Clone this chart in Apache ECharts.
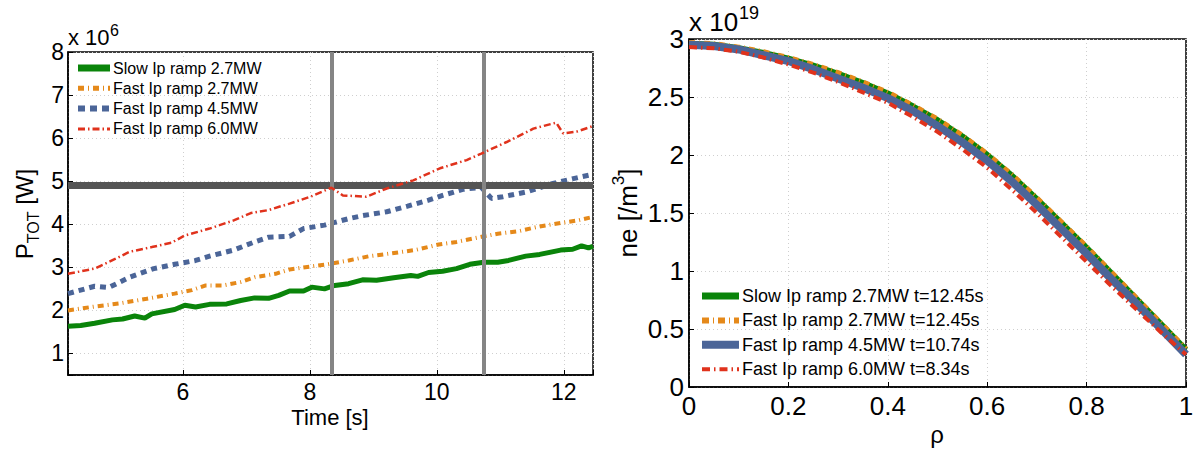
<!DOCTYPE html>
<html>
<head>
<meta charset="utf-8">
<script src="https://cdn.jsdelivr.net/npm/echarts@6/dist/echarts.min.js"></script>
<style>html,body{margin:0;padding:0;background:#fff;}#c{width:1197px;height:450px;}</style>
</head>
<body>
<div id="c"></div>
<script>
// ---------- Left panel: total power vs time (units of 1e6 W) ----------
const leftNames = ['Slow Ip ramp 2.7MW', 'Fast Ip ramp 2.7MW', 'Fast Ip ramp 4.5MW', 'Fast Ip ramp 6.0MW'];
const tSlow27 = [4.19,4.39,4.61,4.89,5.05,5.24,5.40,5.51,5.87,6.03,6.20,6.42,6.69,6.91,7.13,7.35,7.51,7.68,7.90,8.03,8.23,8.39,8.61,8.83,9.05,9.32,9.59,9.70,9.87,10.09,10.31,10.52,10.74,10.96,11.13,11.40,11.62,11.95,12.14,12.28,12.39,12.46];
const pSlow27 = [1.63,1.65,1.70,1.78,1.80,1.87,1.82,1.92,2.02,2.12,2.08,2.14,2.15,2.23,2.29,2.28,2.35,2.45,2.45,2.54,2.50,2.58,2.62,2.71,2.70,2.76,2.81,2.79,2.88,2.91,2.97,3.07,3.12,3.12,3.16,3.26,3.30,3.40,3.42,3.50,3.45,3.49];
const tFast27 = [4.19,4.61,4.99,5.43,5.87,6.14,6.36,6.64,6.91,7.13,7.46,7.68,8.01,8.28,8.61,8.94,9.26,9.65,10.03,10.31,10.74,10.96,11.29,11.62,11.95,12.22,12.46];
const pFast27 = [2.00,2.09,2.16,2.27,2.39,2.47,2.58,2.58,2.66,2.77,2.85,2.95,3.02,3.07,3.16,3.26,3.32,3.40,3.53,3.59,3.72,3.78,3.84,3.95,4.03,4.09,4.17];
const tFast45 = [4.19,4.61,4.83,5.16,5.54,5.87,6.20,6.42,6.80,7.13,7.35,7.68,7.90,8.23,8.61,8.83,9.21,9.54,9.87,10.09,10.41,10.70,10.86,11.04,11.41,11.83,12.15,12.46];
const pFast45 = [2.39,2.56,2.53,2.77,2.97,3.07,3.16,3.26,3.40,3.59,3.70,3.72,3.90,3.98,4.13,4.20,4.29,4.42,4.56,4.67,4.81,4.86,4.60,4.64,4.75,4.95,5.06,5.16];
const tFast60 = [4.19,4.61,4.94,5.16,5.51,5.82,6.03,6.42,6.80,7.07,7.35,7.68,8.01,8.34,8.52,8.89,9.21,9.63,10.05,10.47,10.70,11.10,11.52,11.83,11.88,11.99,12.20,12.46];
const pFast60 = [2.85,2.97,3.20,3.36,3.47,3.57,3.74,3.90,4.09,4.26,4.33,4.48,4.64,4.85,4.67,4.64,4.83,5.02,5.30,5.49,5.64,5.91,6.22,6.34,6.36,6.11,6.15,6.28];
const powerLimit = 4.9;            // horizontal reference line (1e6 W)
const markerTimes = [8.34, 10.74]; // vertical reference lines (s)
const timeRange = [4.19, 12.46];
const powerRange = [0.5, 8];

// ---------- Right panel: density profiles (units of 1e19 /m^3) ----------
const rightNames = ['Slow Ip ramp 2.7MW t=12.45s', 'Fast Ip ramp 2.7MW t=12.45s', 'Fast Ip ramp 4.5MW t=10.74s', 'Fast Ip ramp 6.0MW t=8.34s'];
const rho = [0,0.05,0.1,0.15,0.2,0.25,0.3,0.35,0.4,0.45,0.5,0.55,0.6,0.65,0.7,0.75,0.8,0.85,0.9,0.95,1];
const neSlow27 = [2.96,2.95,2.92,2.88,2.83,2.77,2.70,2.62,2.53,2.42,2.30,2.16,2.00,1.82,1.62,1.41,1.20,0.98,0.76,0.54,0.32];
const neFast27 = [2.97,2.96,2.93,2.89,2.84,2.78,2.71,2.63,2.54,2.43,2.31,2.17,2.01,1.83,1.63,1.42,1.21,0.99,0.77,0.55,0.33];
const neFast45 = [2.95,2.94,2.91,2.86,2.81,2.74,2.66,2.58,2.49,2.38,2.25,2.11,1.95,1.77,1.57,1.36,1.15,0.93,0.72,0.50,0.28];
const neFast60 = [2.93,2.92,2.89,2.84,2.78,2.71,2.63,2.54,2.45,2.33,2.20,2.05,1.89,1.70,1.50,1.29,1.08,0.87,0.67,0.47,0.28];

const colors = ['#0a840a', '#e5891a', '#4b6598', '#e0321c'];
const FF = 'Liberation Sans, Arial, sans-serif';

function zip(a, b) { return a.map((v, i) => [v, b[i]]); }

const chart = echarts.init(document.getElementById('c'), null, {renderer: 'svg'});

const splitLine = {show: true, lineStyle: {color: '#cfcfcf', type: [1, 3], width: 1}};
const axLine = {show: true, onZero: false, lineStyle: {color: '#000', width: 1.5}};
const tick = {show: true, inside: true, length: 5, lineStyle: {color: '#000', width: 1}};
const intOnly = v => (Math.abs(v - Math.round(v)) < 1e-6 ? String(Math.round(v)) : '');

const leftStyles = [
  {width: 5, type: 'solid'},
  {width: 4, type: [6, 4, 1, 4]},
  {width: 5, type: [6, 5]},
  {width: 2.5, type: [7, 3, 1.5, 3]}
];
const rightStyles = [
  {width: 6, type: 'solid'},
  {width: 5, type: [6, 4, 1, 4]},
  {width: 8, type: 'solid'},
  {width: 4, type: [8, 4, 1.5, 4]}
];
const leftLegendStyles = [
  {width: 7, dash: null},
  {width: 5, dash: [6, 4, 1, 4]},
  {width: 6, dash: [7, 5]},
  {width: 3, dash: [7, 3, 1.5, 3]}
];
const rightLegendStyles = [
  {width: 7, dash: null},
  {width: 6, dash: [7, 4, 1, 4]},
  {width: 8, dash: null},
  {width: 4, dash: [8, 4, 1.5, 4]}
];
const leftData = [zip(tSlow27, pSlow27), zip(tFast27, pFast27), zip(tFast45, pFast45), zip(tFast60, pFast60)];
const rightData = [zip(rho, neSlow27), zip(rho, neFast27), zip(rho, neFast45), zip(rho, neFast60)];

const series = [];
leftNames.forEach((n, i) => {
  series.push({
    name: n, type: 'line', xAxisIndex: 0, yAxisIndex: 0, data: leftData[i],
    symbol: 'none', showSymbol: false, animation: false, z: 2 + i,
    lineStyle: {color: colors[i], width: leftStyles[i].width, type: leftStyles[i].type, cap: 'butt'},
    itemStyle: {color: colors[i]}
  });
});
series.push({
  type: 'line', xAxisIndex: 0, yAxisIndex: 0, data: [], z: 10, animation: false,
  markLine: {silent: true, symbol: 'none', animation: false, label: {show: false},
    lineStyle: {color: '#555555', width: 7, type: 'solid'},
    data: [{yAxis: powerLimit}]}
});
series.push({
  type: 'line', xAxisIndex: 0, yAxisIndex: 0, data: [], z: 11, animation: false,
  markLine: {silent: true, symbol: 'none', animation: false, label: {show: false},
    lineStyle: {color: '#858585', width: 4, type: 'solid'},
    data: markerTimes.map(t => ({xAxis: t}))}
});
rightNames.forEach((n, i) => {
  series.push({
    name: n, type: 'line', xAxisIndex: 1, yAxisIndex: 1, data: rightData[i],
    symbol: 'none', showSymbol: false, animation: false, z: 2 + i,
    lineStyle: {color: colors[i], width: rightStyles[i].width, type: rightStyles[i].type, cap: 'butt'},
    itemStyle: {color: colors[i]}
  });
});

// legends drawn as graphic groups (line sample + text label)
function legendGraphics(names, styles, x0, lineLen, y0, gap, fontSize) {
  const els = [];
  names.forEach((n, i) => {
    const y = y0 + i * gap;
    const st = {stroke: colors[i], lineWidth: styles[i].width, lineCap: 'butt'};
    if (styles[i].dash) st.lineDash = styles[i].dash;
    els.push({type: 'line', silent: true, z: 50, shape: {x1: x0, y1: y, x2: x0 + lineLen, y2: y}, style: st});
    els.push({type: 'text', silent: true, z: 50, x: x0 + lineLen + 3, y: y,
      style: {text: n, font: fontSize + 'px ' + FF, fill: '#000', verticalAlign: 'middle', align: 'left'}});
  });
  return els;
}

const option = {
  backgroundColor: '#fff',
  animation: false,
  grid: [
    {left: 68, top: 52, width: 525, height: 323, show: true, borderColor: '#000', borderWidth: 1.5, backgroundColor: 'transparent'},
    {left: 689, top: 39, width: 497, height: 348, show: true, borderColor: '#000', borderWidth: 1.5, backgroundColor: 'transparent'}
  ],
  xAxis: [
    {type: 'value', gridIndex: 0, min: timeRange[0], max: timeRange[1], splitNumber: 5,
     axisLine: axLine, axisTick: tick, splitLine: splitLine,
     axisLabel: {formatter: intOnly, fontSize: 23, color: '#000', fontFamily: FF, margin: 5}},
    {type: 'value', gridIndex: 1, min: 0, max: 1, interval: 0.2,
     axisLine: axLine, axisTick: tick, splitLine: splitLine,
     axisLabel: {formatter: v => String(+v.toFixed(1)), fontSize: 26, color: '#000', fontFamily: FF, margin: 6}}
  ],
  yAxis: [
    {type: 'value', gridIndex: 0, min: powerRange[0], max: powerRange[1], splitNumber: 8,
     axisLine: axLine, axisTick: tick, splitLine: splitLine,
     axisLabel: {formatter: intOnly, fontSize: 23, color: '#000', fontFamily: FF, margin: 4}},
    {type: 'value', gridIndex: 1, min: 0, max: 3, interval: 0.5,
     axisLine: axLine, axisTick: tick, splitLine: splitLine,
     axisLabel: {formatter: v => String(+v.toFixed(1)), fontSize: 26, color: '#000', fontFamily: FF, margin: 5}}
  ],
  graphic: [
    {type: 'text', x: 68, y: 48, style: {text: 'x 10', font: '22px ' + FF, fill: '#000', verticalAlign: 'bottom'}},
    {type: 'text', x: 110, y: 22, style: {text: '6', font: '16px ' + FF, fill: '#000', verticalAlign: 'top'}},
    {type: 'text', x: 689, y: 35, style: {text: 'x 10', font: '26px ' + FF, fill: '#000', verticalAlign: 'bottom'}},
    {type: 'text', x: 739, y: 4, style: {text: '19', font: '18px ' + FF, fill: '#000', verticalAlign: 'top'}},
    {type: 'text', x: 330, y: 417, style: {text: 'Time [s]', font: '22px ' + FF, fill: '#000', align: 'center', verticalAlign: 'middle'}},
    {type: 'text', x: 937, y: 434, style: {text: 'ρ', font: '24px ' + FF, fill: '#000', align: 'center', verticalAlign: 'middle'}},
    {type: 'text', x: 24, y: 214, rotation: Math.PI / 2,
     style: {text: '{m|P}{s|TOT}{m| [W]}', align: 'center', verticalAlign: 'middle', fill: '#000',
       rich: {m: {fontSize: 24, fontFamily: FF, lineHeight: 34, fill: '#000'}, s: {fontSize: 16, fontFamily: FF, lineHeight: 16, verticalAlign: 'bottom', fill: '#000'}}}},
    {type: 'text', x: 628, y: 213, rotation: Math.PI / 2,
     style: {text: '{m|ne [/m}{s|3}{m|]}', align: 'center', verticalAlign: 'middle', fill: '#000',
       rich: {m: {fontSize: 26, fontFamily: FF, lineHeight: 36, fill: '#000'}, s: {fontSize: 17, fontFamily: FF, lineHeight: 17, verticalAlign: 'top', fill: '#000'}}}}
  ].concat(
    legendGraphics(leftNames, leftLegendStyles, 78, 32, 68, 20.3, 16),
    legendGraphics(rightNames, rightLegendStyles, 702, 37, 296, 24.4, 18)
  ),
  series: series
};
chart.setOption(option);
</script>
</body>
</html>
